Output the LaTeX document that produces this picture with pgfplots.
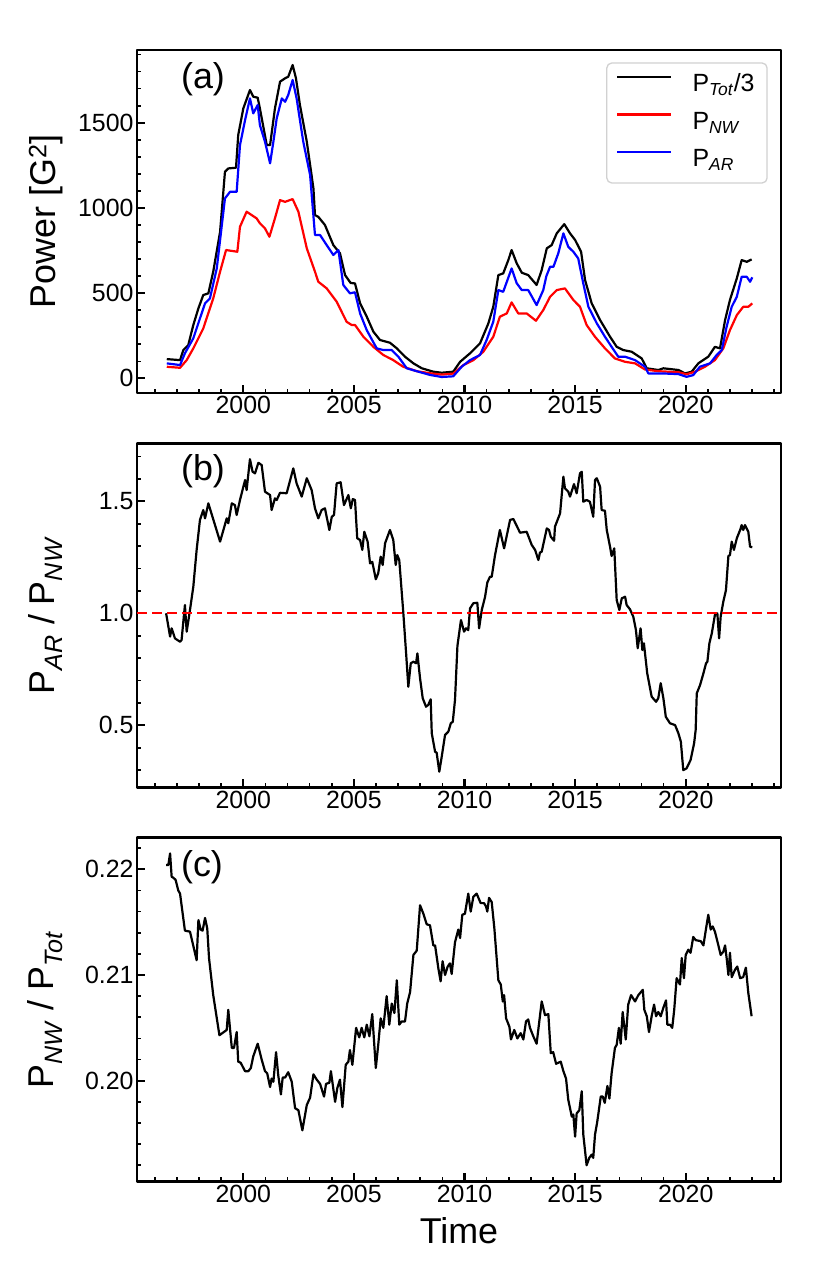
\documentclass[border=0pt]{standalone}
\usepackage{pgfplots}
\pgfplotsset{compat=1.18}
\usepackage{fontspec}
\setmainfont{Liberation Sans}
\newcommand{\tickfont}{\fontsize{25}{30}\selectfont}
\newcommand{\labfont}{\fontsize{36}{43}\selectfont}
\pgfplotsset{
 panel/.style={
  scale only axis, width=644bp,
  xmin=1995.194, xmax=2024.308,
  xtick={2000,2005,2010,2015,2020},
  minor xtick={1996,1997,...,2024},
  tick pos=left, tick align=inside,
  major tick length=8.5bp, minor tick length=4.5bp,
  every major tick/.append style={line width=2.2bp, black},
  every minor tick/.append style={line width=1.6bp, black},
  axis line style={line width=2.5bp},
  ticklabel style={font=\tickfont},
  /pgf/number format/assume math mode=true,
  /pgf/number format/1000 sep={},
  scaled y ticks=false,
  ylabel style={font=\labfont, at={(axis description cs:-0.1149,0.5)}, anchor=south, inner sep=0pt},
  line join=round,
 },
 curve/.style={line width=2.2bp},
}
\begin{document}
\begin{tikzpicture}
\useasboundingbox (0,-1279bp) rectangle (830bp,0);
% ---------------- (a)
\begin{axis}[panel, at={(137bp,-50bp)}, anchor=north west, height=343bp,
  ymin=-86, ymax=1927,
  ytick={0,500,1000,1500},
  minor ytick={100,200,300,400,600,700,800,900,1100,1200,1300,1400,1600,1700,1800,1900},
  ylabel={Power [G\textsuperscript{2}]},
  legend style={at={(axis description cs:0.9794,0.964)}, anchor=north east, font=\tickfont,
    draw=black!18, line width=1.3bp, rounded corners=5bp, inner xsep=9.5bp, inner ysep=9bp,
    row sep=10.5bp, nodes={inner sep=3bp, text height=17bp, text depth=4bp},
    /tikz/every odd column/.append style={column sep=17bp}},
  legend cell align=left,
  legend image code/.code={\draw[#1, sharp corners] (0bp,8.5bp) -- (54bp,8.5bp);},
]
\addplot[curve, black] coordinates {
(1996.54,113) (1997.14,107) (1997.29,166) (1997.51,195) (1997.74,313) (1997.97,411)
(1998.19,489) (1998.42,499) (1998.64,626) (1998.95,860) (1999.17,1212) (1999.32,1232)
(1999.67,1236) (1999.77,1428) (2000.00,1584) (2000.30,1692) (2000.45,1653) (2000.65,1647)
(2000.75,1584) (2001.06,1369) (2001.21,1369) (2001.43,1584) (2001.66,1741) (2001.89,1761)
(2002.03,1770) (2002.23,1839) (2002.38,1761) (2002.56,1604) (2002.87,1389) (2003.17,1115)
(2003.24,958) (2003.39,948) (2003.69,900) (2004.07,782) (2004.37,734) (2004.60,606)
(2004.85,560) (2005.05,557) (2005.28,440) (2005.58,362) (2005.88,274) (2006.18,225)
(2006.63,209) (2006.94,176) (2007.31,127) (2007.69,88) (2008.07,59) (2008.59,39)
(2008.97,33) (2009.49,39) (2009.80,97) (2010.25,147) (2010.70,205) (2011.08,323)
(2011.30,420) (2011.53,606) (2011.75,616) (2011.98,694) (2012.13,753) (2012.36,675)
(2012.59,620) (2012.88,606) (2013.26,548) (2013.49,636) (2013.72,763) (2013.94,782)
(2014.17,851) (2014.51,905) (2014.77,851) (2015.00,812) (2015.27,743) (2015.45,577)
(2015.75,440) (2016.13,342) (2016.58,244) (2016.88,185) (2017.18,166) (2017.56,156)
(2018.01,117) (2018.24,59) (2018.76,49) (2018.99,59) (2019.67,49) (2019.97,29)
(2020.27,39) (2020.57,88) (2021.02,127) (2021.32,185) (2021.55,176) (2021.78,342)
(2022.00,460) (2022.31,587) (2022.53,694) (2022.76,684) (2022.98,698)
};
\addlegendentry{P\textsubscript{\textit{Tot}}/3}
\addplot[curve, red] coordinates {
(1996.54,68) (1997.14,62) (1997.44,107) (1997.74,176) (1998.19,293) (1998.64,469)
(1998.95,626) (1999.22,753) (1999.73,743) (1999.85,890) (2000.15,978) (2000.38,958)
(2000.60,939) (2000.75,910) (2000.98,880) (2001.18,831) (2001.43,939) (2001.66,1046)
(2001.89,1036) (2002.23,1052) (2002.49,978) (2002.87,763) (2003.24,626) (2003.39,567)
(2003.77,528) (2004.22,450) (2004.67,332) (2004.90,313) (2005.05,313) (2005.43,244)
(2005.88,185) (2006.33,137) (2006.78,107) (2007.23,68) (2007.84,42) (2008.44,30)
(2008.97,22) (2009.49,28) (2009.95,78) (2010.40,107) (2010.85,156) (2011.30,244)
(2011.60,362) (2011.91,381) (2012.13,446) (2012.43,381) (2012.81,381) (2013.23,338)
(2013.56,401) (2013.87,479) (2014.17,518) (2014.54,528) (2014.92,460) (2015.22,420)
(2015.52,313) (2015.90,244) (2016.35,176) (2016.80,117) (2017.26,97) (2017.71,88)
(2018.16,52) (2018.76,42) (2019.67,36) (2020.04,24) (2020.42,39) (2020.87,68)
(2021.32,107) (2021.70,176) (2022.00,283) (2022.31,371) (2022.60,420) (2022.83,420)
(2023.01,440)
};
\addlegendentry{P\textsubscript{\textit{NW}}}
\addplot[curve, blue] coordinates {
(1996.54,88) (1997.14,78) (1997.36,147) (1997.74,235) (1998.04,352) (1998.27,440)
(1998.49,469) (1998.80,645) (1999.17,1056) (1999.40,1095) (1999.70,1095) (1999.85,1369)
(2000.08,1516) (2000.30,1643) (2000.45,1555) (2000.65,1604) (2000.75,1486) (2000.98,1389)
(2001.21,1262) (2001.36,1389) (2001.51,1526) (2001.74,1643) (2001.89,1623) (2002.03,1663)
(2002.23,1751) (2002.41,1643) (2002.71,1389) (2003.02,1193) (2003.24,841) (2003.47,841)
(2003.77,782) (2004.07,724) (2004.30,753) (2004.52,548) (2004.82,499) (2005.05,505)
(2005.28,381) (2005.58,283) (2006.03,176) (2006.33,166) (2006.71,166) (2007.01,127)
(2007.39,59) (2007.84,42) (2008.44,20) (2008.97,8) (2009.49,12) (2009.87,68)
(2010.25,107) (2010.70,137) (2011.00,225) (2011.30,332) (2011.53,518) (2011.75,508)
(2012.13,645) (2012.36,558) (2012.59,518) (2012.88,518) (2013.26,430) (2013.56,518)
(2013.70,600) (2013.87,655) (2014.02,655) (2014.24,734) (2014.47,851) (2014.69,772)
(2014.92,743) (2015.14,704) (2015.37,557) (2015.60,420) (2015.98,323) (2016.35,244)
(2016.65,185) (2016.95,127) (2017.26,127) (2017.71,107) (2018.16,68) (2018.31,29)
(2018.92,29) (2019.67,25) (2020.04,9) (2020.34,19) (2020.64,68) (2021.10,88)
(2021.40,137) (2021.63,166) (2021.85,303) (2022.08,420) (2022.31,479) (2022.53,596)
(2022.76,596) (2022.91,567) (2023.01,593)
};
\addlegendentry{P\textsubscript{\textit{AR}}}
\node[anchor=base west, font=\labfont] at (axis description cs:0.063,0.887) {(a)};
\end{axis}
% ---------------- (b)
\begin{axis}[panel, at={(137bp,-443.3bp)}, anchor=north west, height=344.4bp,
  ymin=0.2214, ymax=1.759,
  ytick={0.5,1.0,1.5},
  minor ytick={0.3,0.4,0.6,0.7,0.8,0.9,1.1,1.2,1.3,1.4,1.6,1.7},
  yticklabel style={/pgf/number format/.cd, fixed, fixed zerofill, precision=1},
  ylabel={P\textsubscript{\textit{AR}} / P\textsubscript{\textit{NW}}},
]
\addplot[curve, black] coordinates {
(1996.51,1.000) (1996.69,0.896) (1996.76,0.933) (1996.91,0.888) (1997.14,0.873) (1997.21,0.881)
(1997.36,1.037) (1997.44,0.918) (1997.59,1.015) (1997.74,1.119) (1997.89,1.283) (1998.04,1.417)
(1998.19,1.461) (1998.27,1.424) (1998.42,1.491) (1998.95,1.320) (1999.25,1.424) (1999.32,1.402)
(1999.48,1.491) (1999.62,1.483) (1999.70,1.439) (1999.85,1.506) (2000.08,1.595) (2000.15,1.550)
(2000.30,1.688) (2000.42,1.632) (2000.53,1.625) (2000.68,1.672) (2000.83,1.662) (2000.98,1.543)
(2001.21,1.528) (2001.28,1.461) (2001.43,1.513) (2001.51,1.506) (2001.66,1.538) (2001.96,1.536)
(2002.26,1.647) (2002.41,1.580) (2002.64,1.521) (2002.87,1.603) (2003.09,1.550) (2003.24,1.469)
(2003.39,1.424) (2003.54,1.461) (2003.69,1.469) (2003.89,1.372) (2004.00,1.431) (2004.10,1.439)
(2004.22,1.580) (2004.40,1.585) (2004.55,1.483) (2004.75,1.528) (2004.86,1.469) (2004.95,1.510)
(2005.05,1.506) (2005.15,1.335) (2005.28,1.327) (2005.38,1.283) (2005.47,1.364) (2005.62,1.320)
(2005.73,1.223) (2005.83,1.230) (2005.99,1.152) (2006.10,1.179) (2006.21,1.253) (2006.30,1.216)
(2006.41,1.313) (2006.63,1.372) (2006.78,1.327) (2006.89,1.216) (2006.96,1.260) (2007.05,1.238)
(2007.23,1.007) (2007.36,0.821) (2007.46,0.672) (2007.57,0.777) (2007.69,0.784) (2007.81,0.777)
(2007.87,0.821) (2007.99,0.710) (2008.11,0.621) (2008.26,0.583) (2008.36,0.591) (2008.47,0.616)
(2008.52,0.464) (2008.67,0.382) (2008.74,0.378) (2008.86,0.293) (2008.97,0.360) (2009.12,0.457)
(2009.27,0.472) (2009.38,0.509) (2009.47,0.516) (2009.57,0.613) (2009.68,0.855) (2009.84,0.970)
(2009.98,0.918) (2010.07,0.933) (2010.17,0.925) (2010.25,1.022) (2010.40,1.045) (2010.58,1.047)
(2010.66,0.933) (2010.78,1.015) (2010.93,1.074) (2011.03,1.137) (2011.15,1.163) (2011.23,1.163)
(2011.38,1.260) (2011.60,1.372) (2011.79,1.290) (2012.06,1.417) (2012.21,1.421) (2012.51,1.360)
(2012.81,1.364) (2013.04,1.305) (2013.19,1.283) (2013.34,1.238) (2013.41,1.271) (2013.49,1.275)
(2013.72,1.379) (2013.82,1.372) (2013.90,1.342) (2014.05,1.324) (2014.09,1.387) (2014.32,1.446)
(2014.47,1.610) (2014.54,1.558) (2014.69,1.543) (2014.77,1.521) (2014.95,1.577) (2015.07,1.536)
(2015.22,1.625) (2015.30,1.632) (2015.37,1.498) (2015.52,1.506) (2015.67,1.498) (2015.82,1.431)
(2015.90,1.595) (2015.98,1.603) (2016.13,1.565) (2016.20,1.461) (2016.35,1.458) (2016.43,1.372)
(2016.58,1.297) (2016.65,1.256) (2016.77,1.290) (2016.88,1.059) (2017.00,1.015) (2017.11,1.067)
(2017.26,1.074) (2017.33,1.037) (2017.48,1.018) (2017.63,0.985) (2017.75,0.925) (2017.83,0.844)
(2017.96,0.933) (2018.04,0.836) (2018.11,0.866) (2018.26,0.732) (2018.46,0.628) (2018.66,0.605)
(2018.76,0.621) (2018.87,0.688) (2018.99,0.621) (2019.10,0.538) (2019.29,0.509) (2019.52,0.501)
(2019.67,0.464) (2019.78,0.427) (2019.89,0.300) (2020.04,0.308) (2020.22,0.345) (2020.38,0.420)
(2020.45,0.479) (2020.50,0.643) (2020.65,0.680) (2020.80,0.732) (2020.92,0.777) (2020.98,0.784)
(2021.07,0.866) (2021.18,0.911) (2021.32,0.993) (2021.43,1.000) (2021.51,0.888) (2021.58,0.985)
(2021.70,1.052) (2021.82,1.104) (2021.93,1.256) (2022.00,1.260) (2022.08,1.320) (2022.18,1.283)
(2022.31,1.335) (2022.46,1.372) (2022.53,1.394) (2022.60,1.372) (2022.68,1.394) (2022.83,1.364)
(2022.91,1.297) (2023.01,1.295)
};
\addplot[red, line width=2bp, dash pattern=on 10bp off 5bp] coordinates {(1995.194,1) (2024.308,1)};
\node[anchor=base west, font=\labfont] at (axis description cs:0.063,0.891) {(b)};
\end{axis}
% ---------------- (c)
\begin{axis}[panel, at={(137bp,-837.7bp)}, anchor=north west, height=344bp,
  ymin=0.19044, ymax=0.22299,
  ytick={0.20,0.21,0.22},
  minor ytick={0.192,0.194,0.196,0.198,0.202,0.204,0.206,0.208,0.212,0.214,0.216,0.218,0.222},
  yticklabel style={/pgf/number format/.cd, fixed, fixed zerofill, precision=2},
  ylabel={P\textsubscript{\textit{NW}} / P\textsubscript{\textit{Tot}}},
  xlabel={Time},
  xlabel style={font=\labfont, at={(axis description cs:0.5,-0.181)}, anchor=base, inner sep=0pt},
]
\addplot[curve, black] coordinates {
(1996.51,0.2204) (1996.61,0.2204) (1996.69,0.2215) (1996.76,0.2193) (1996.84,0.2192) (1996.94,0.2190)
(1997.06,0.2180) (1997.14,0.2177) (1997.36,0.2142) (1997.59,0.2141) (1997.89,0.2114) (1997.97,0.2152)
(1998.07,0.2143) (1998.16,0.2142) (1998.27,0.2154) (1998.37,0.2144) (1998.45,0.2116) (1998.64,0.2081)
(1998.92,0.2043) (1999.25,0.2048) (1999.32,0.2067) (1999.48,0.2031) (1999.58,0.2031) (1999.70,0.2046)
(1999.77,0.2018) (1999.88,0.2017) (2000.08,0.2009) (2000.23,0.2009) (2000.34,0.2012) (2000.45,0.2023)
(2000.65,0.2035) (2000.83,0.2020) (2000.98,0.2009) (2001.08,0.2007) (2001.21,0.1994) (2001.28,0.2002)
(2001.36,0.1999) (2001.48,0.2027) (2001.58,0.2005) (2001.70,0.1987) (2001.78,0.2003) (2001.89,0.2003)
(2002.03,0.2008) (2002.19,0.1999) (2002.34,0.1974) (2002.49,0.1972) (2002.67,0.1953) (2002.87,0.1977)
(2003.02,0.1984) (2003.17,0.2006) (2003.32,0.2001) (2003.47,0.1997) (2003.65,0.1985) (2003.74,0.1997)
(2003.89,0.1998) (2003.96,0.2009) (2004.15,0.1980) (2004.25,0.1993) (2004.37,0.2001) (2004.48,0.1975)
(2004.63,0.2015) (2004.75,0.2018) (2004.82,0.2029) (2004.93,0.2015) (2005.10,0.2050) (2005.24,0.2041)
(2005.35,0.2050) (2005.47,0.2041) (2005.58,0.2053) (2005.70,0.2042) (2005.83,0.2063) (2005.99,0.2012)
(2006.10,0.2034) (2006.21,0.2059) (2006.33,0.2050) (2006.48,0.2080) (2006.60,0.2053) (2006.71,0.2073)
(2006.83,0.2064) (2006.94,0.2095) (2007.05,0.2053) (2007.16,0.2056) (2007.31,0.2056) (2007.41,0.2073)
(2007.54,0.2084) (2007.69,0.2119) (2007.84,0.2123) (2007.99,0.2166) (2008.14,0.2158) (2008.29,0.2148)
(2008.44,0.2147) (2008.59,0.2128) (2008.67,0.2128) (2008.82,0.2106) (2008.92,0.2094) (2009.01,0.2113)
(2009.12,0.2100) (2009.24,0.2108) (2009.34,0.2111) (2009.42,0.2101) (2009.57,0.2131) (2009.72,0.2143)
(2009.80,0.2135) (2009.90,0.2157) (2010.02,0.2158) (2010.17,0.2177) (2010.28,0.2160) (2010.40,0.2174)
(2010.55,0.2177) (2010.73,0.2168) (2010.88,0.2168) (2010.97,0.2165) (2011.03,0.2160) (2011.11,0.2173)
(2011.23,0.2169) (2011.35,0.2144) (2011.53,0.2095) (2011.64,0.2091) (2011.73,0.2075) (2011.79,0.2081)
(2011.88,0.2059) (2012.03,0.2051) (2012.10,0.2039) (2012.25,0.2048) (2012.39,0.2040) (2012.54,0.2045)
(2012.66,0.2039) (2012.78,0.2056) (2012.88,0.2058) (2012.96,0.2050) (2013.11,0.2042) (2013.26,0.2035)
(2013.49,0.2075) (2013.64,0.2062) (2013.79,0.2063) (2013.90,0.2026) (2014.01,0.2027) (2014.14,0.2016)
(2014.35,0.2018) (2014.47,0.2009) (2014.59,0.2002) (2014.69,0.1982) (2014.85,0.1966) (2014.92,0.1968)
(2015.00,0.1947) (2015.07,0.1969) (2015.19,0.1972) (2015.30,0.1990) (2015.37,0.1949) (2015.52,0.1920)
(2015.64,0.1927) (2015.75,0.1930) (2015.82,0.1927) (2015.90,0.1949) (2016.00,0.1961) (2016.16,0.1985)
(2016.25,0.1985) (2016.34,0.1979) (2016.46,0.1995) (2016.55,0.1983) (2016.65,0.2007) (2016.80,0.2031)
(2016.88,0.2034) (2016.98,0.2050) (2017.06,0.2035) (2017.15,0.2065) (2017.29,0.2039) (2017.40,0.2072)
(2017.53,0.2081) (2017.71,0.2075) (2017.86,0.2081) (2018.06,0.2086) (2018.13,0.2067) (2018.24,0.2061)
(2018.34,0.2046) (2018.46,0.2061) (2018.57,0.2072) (2018.66,0.2061) (2018.76,0.2065) (2018.87,0.2061)
(2018.99,0.2069) (2019.11,0.2076) (2019.17,0.2053) (2019.29,0.2053) (2019.39,0.2050) (2019.48,0.2067)
(2019.59,0.2097) (2019.74,0.2091) (2019.82,0.2116) (2019.92,0.2097) (2020.00,0.2119) (2020.12,0.2124)
(2020.22,0.2121) (2020.34,0.2136) (2020.45,0.2133) (2020.68,0.2132) (2020.80,0.2128) (2020.92,0.2144)
(2021.02,0.2157) (2021.13,0.2143) (2021.22,0.2146) (2021.32,0.2141) (2021.43,0.2132) (2021.58,0.2119)
(2021.70,0.2122) (2021.78,0.2128) (2021.85,0.2116) (2021.93,0.2100) (2022.00,0.2121) (2022.08,0.2098)
(2022.23,0.2105) (2022.33,0.2108) (2022.46,0.2097) (2022.60,0.2098) (2022.72,0.2107) (2022.83,0.2083)
(2022.98,0.2061)
};
\node[anchor=base west, font=\labfont] at (axis description cs:0.063,0.887) {(c)};
\end{axis}
\end{tikzpicture}
\end{document}
